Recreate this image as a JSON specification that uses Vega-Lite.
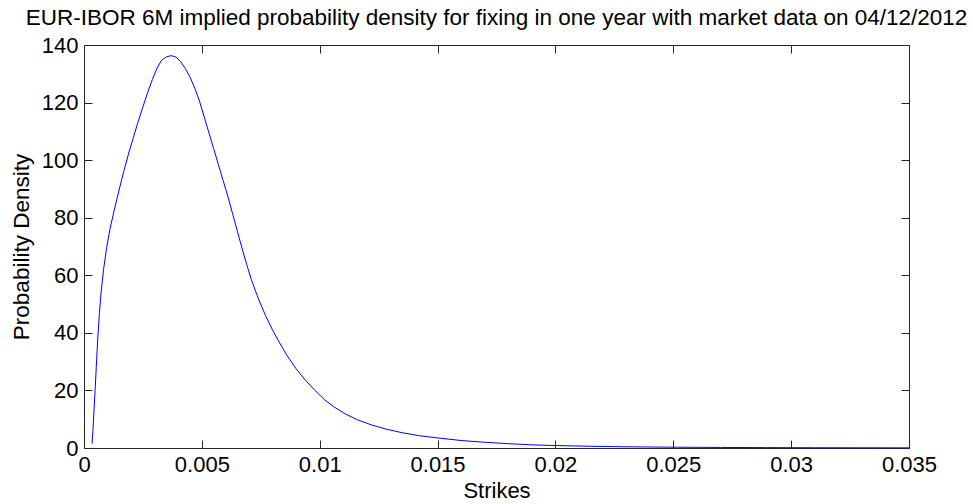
{
  "$schema": "https://vega.github.io/schema/vega-lite/v6.json",
  "width": 825,
  "height": 403,
  "autosize": {"type": "none"},
  "padding": {"left": 84, "top": 45, "right": 64, "bottom": 56},
  "background": "white",
  "title": {
    "text": "EUR-IBOR 6M implied probability density for fixing in one year with market data on 04/12/2012",
    "font": "Liberation Sans",
    "fontSize": 22.5,
    "fontWeight": "normal",
    "color": "black",
    "anchor": "middle",
    "baseline": "alphabetic",
    "offset": -13
  },
  "data": {
    "values": [
      {"strike": 0.00034, "density": 1.5},
      {"strike": 0.00038, "density": 6},
      {"strike": 0.00042, "density": 12.5},
      {"strike": 0.00047, "density": 20},
      {"strike": 0.00052, "density": 28},
      {"strike": 0.00058, "density": 37.5},
      {"strike": 0.00065, "density": 46.5},
      {"strike": 0.00073, "density": 54.5},
      {"strike": 0.00083, "density": 62},
      {"strike": 0.00095, "density": 69},
      {"strike": 0.0011, "density": 76},
      {"strike": 0.00128, "density": 82.5},
      {"strike": 0.0015, "density": 90},
      {"strike": 0.0017, "density": 96.5},
      {"strike": 0.0019, "density": 102.5},
      {"strike": 0.0021, "density": 108},
      {"strike": 0.0023, "density": 113.5},
      {"strike": 0.0025, "density": 118.5},
      {"strike": 0.0027, "density": 123.5},
      {"strike": 0.0029, "density": 128},
      {"strike": 0.0031, "density": 132},
      {"strike": 0.0033, "density": 134.8},
      {"strike": 0.0035, "density": 135.9},
      {"strike": 0.0037, "density": 136.3},
      {"strike": 0.0039, "density": 135.8},
      {"strike": 0.0041, "density": 134.2},
      {"strike": 0.0043, "density": 131.8},
      {"strike": 0.0045, "density": 128.8},
      {"strike": 0.0047, "density": 125},
      {"strike": 0.0049, "density": 120.5},
      {"strike": 0.0051, "density": 115},
      {"strike": 0.0053, "density": 109.5},
      {"strike": 0.0055, "density": 104},
      {"strike": 0.0057, "density": 98.5},
      {"strike": 0.0059, "density": 93},
      {"strike": 0.0061, "density": 87.5},
      {"strike": 0.0063, "density": 81.5},
      {"strike": 0.0065, "density": 75.5},
      {"strike": 0.0067, "density": 69.5},
      {"strike": 0.0069, "density": 63.8},
      {"strike": 0.0071, "density": 58.5},
      {"strike": 0.0074, "density": 51.8},
      {"strike": 0.0077, "density": 46},
      {"strike": 0.008, "density": 41},
      {"strike": 0.0083, "density": 36.5},
      {"strike": 0.0086, "density": 32.3},
      {"strike": 0.009, "density": 27.5},
      {"strike": 0.0094, "density": 23.5},
      {"strike": 0.0098, "density": 20},
      {"strike": 0.0102, "density": 16.8},
      {"strike": 0.0106, "density": 14.3},
      {"strike": 0.0111, "density": 11.8},
      {"strike": 0.0116, "density": 9.8},
      {"strike": 0.0122, "density": 8.0},
      {"strike": 0.0128, "density": 6.6},
      {"strike": 0.0135, "density": 5.3},
      {"strike": 0.0142, "density": 4.3},
      {"strike": 0.015, "density": 3.5},
      {"strike": 0.016, "density": 2.6},
      {"strike": 0.017, "density": 2.0},
      {"strike": 0.018, "density": 1.5},
      {"strike": 0.019, "density": 1.1},
      {"strike": 0.02, "density": 0.85},
      {"strike": 0.0215, "density": 0.6},
      {"strike": 0.023, "density": 0.42},
      {"strike": 0.025, "density": 0.28},
      {"strike": 0.027, "density": 0.19},
      {"strike": 0.029, "density": 0.13},
      {"strike": 0.031, "density": 0.09},
      {"strike": 0.033, "density": 0.07},
      {"strike": 0.035, "density": 0.05}
    ]
  },
  "layer": [
    {
      "mark": {"type": "line", "color": "#0000ff", "strokeWidth": 1},
      "encoding": {
        "x": {
          "field": "strike",
          "type": "quantitative",
          "scale": {"domain": [0, 0.035], "nice": false, "zero": false},
          "axis": {
            "orient": "bottom",
            "values": [0, 0.005, 0.01, 0.015, 0.02, 0.025, 0.03, 0.035],
            "format": "~g",
            "labelFlush": false,
            "title": "Strikes",
            "titlePadding": 5
          }
        },
        "y": {
          "field": "density",
          "type": "quantitative",
          "scale": {"domain": [0, 140], "nice": false},
          "axis": {
            "orient": "left",
            "values": [0, 20, 40, 60, 80, 100, 120, 140],
            "title": "Probability Density",
            "titleFontSize": 22.5,
            "titlePadding": 8
          }
        }
      }
    },
    {
      "mark": {"type": "line", "strokeOpacity": 0},
      "encoding": {
        "x": {
          "field": "strike",
          "type": "quantitative",
          "scale": {"domain": [0, 0.035], "nice": false, "zero": false},
          "axis": {
            "orient": "top",
            "values": [0, 0.005, 0.01, 0.015, 0.02, 0.025, 0.03, 0.035],
            "labels": false,
            "title": null
          }
        },
        "y": {
          "field": "density",
          "type": "quantitative",
          "scale": {"domain": [0, 140], "nice": false},
          "axis": {
            "orient": "right",
            "values": [0, 20, 40, 60, 80, 100, 120, 140],
            "labels": false,
            "title": null
          }
        }
      }
    }
  ],
  "resolve": {"axis": {"x": "independent", "y": "independent"}},
  "config": {
    "view": {"stroke": null},
    "axis": {
      "grid": false,
      "domainColor": "#262626",
      "tickColor": "#262626",
      "tickSize": -8,
      "labelPadding": 14,
      "labelFont": "Liberation Sans",
      "labelFontSize": 22,
      "labelColor": "black",
      "titleFont": "Liberation Sans",
      "titleFontSize": 22,
      "titleFontWeight": "normal",
      "titleColor": "black"
    }
  }
}
